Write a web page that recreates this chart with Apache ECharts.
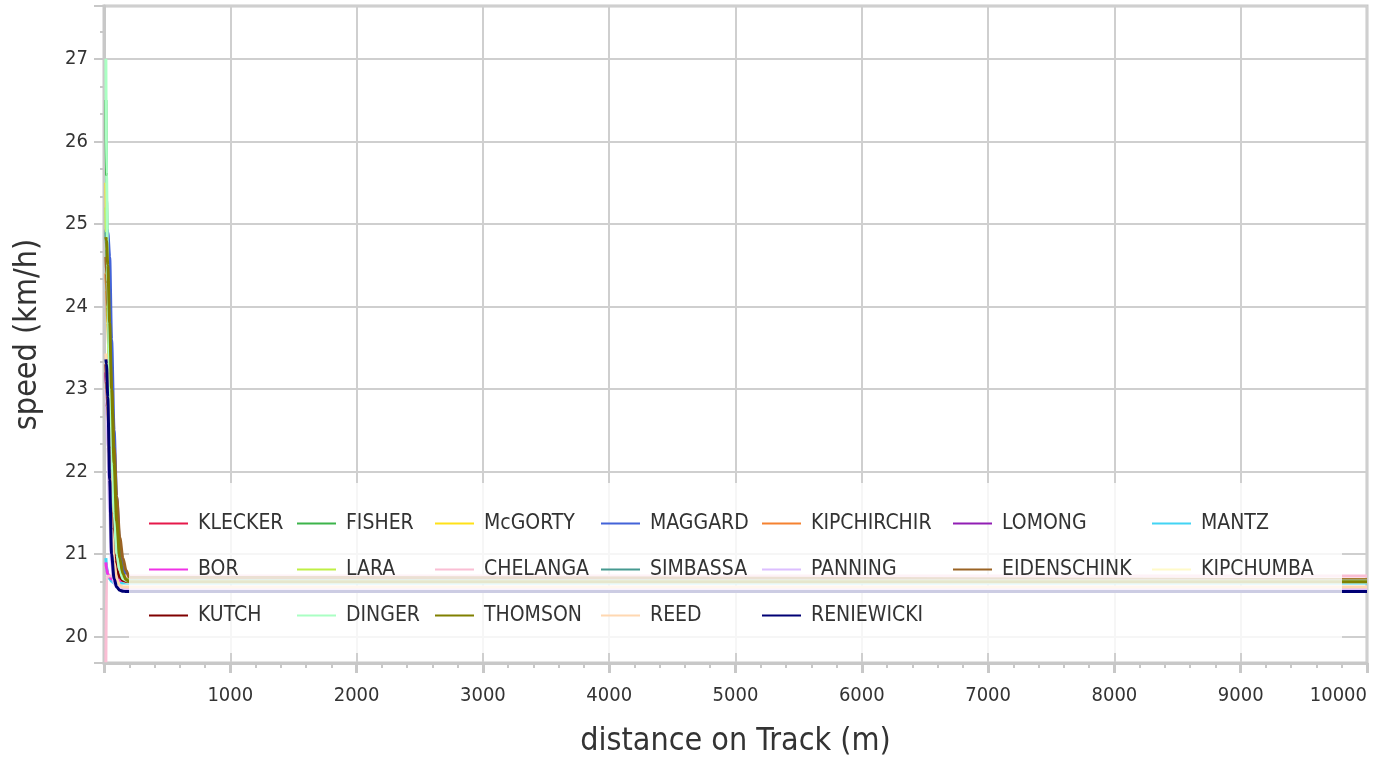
<!DOCTYPE html>
<html>
<head>
<meta charset="utf-8">
<title>speed vs distance</title>
<script src="https://cdn.jsdelivr.net/npm/echarts@6/dist/echarts.min.js"></script>
<style>
  html, body { margin: 0; padding: 0; background: #fff; }
  #chart { width: 1393px; height: 757px; }
</style>
</head>
<body>
<div id="chart"></div>
<script>
// ---------------------------------------------------------------------------
// Data
// ---------------------------------------------------------------------------
const distances = [15, 20, 30, 45, 60, 80, 100, 125, 150, 175, 200, 10000];

const runners = [
  "KLECKER", "FISHER", "McGORTY", "MAGGARD", "KIPCHIRCHIR", "LOMONG", "MANTZ",
  "BOR", "LARA", "CHELANGA", "SIMBASSA", "PANNING", "EIDENSCHINK", "KIPCHUMBA",
  "KUTCH", "DINGER", "THOMSON", "REED", "RENIEWICKI",
];

const KLECKER     = [23.2, 23.0, 22.6, 22.0, 21.5, 21.0, 20.8, 20.72, 20.69, 20.68, 20.68, 20.68];
const FISHER      = [26.5, 25.3, 24.2, 23.1, 22.2, 21.4, 20.95, 20.78, 20.7, 20.68, 20.68, 20.68];
const McGORTY     = [25.5, 24.9, 24.0, 23.0, 22.1, 21.4, 20.95, 20.75, 20.69, 20.67, 20.67, 20.67];
const MAGGARD     = [24.9, 24.94, 24.9, 24.6, 23.6, 22.5, 21.7, 21.1, 20.85, 20.73, 20.69, 20.68];
const KIPCHIRCHIR = [24.4, 24.2, 23.8, 23.0, 22.3, 21.5, 21.0, 20.8, 20.72, 20.7, 20.69, 20.69];
const LOMONG      = [23.2, 23.0, 22.6, 22.0, 21.5, 21.0, 20.78, 20.7, 20.67, 20.67, 20.67, 20.67];
const MANTZ       = [20.95, 20.85, 20.75, 20.7, 20.67, 20.65, 20.65, 20.65, 20.65, 20.65, 20.65, 20.65];
const BOR         = [20.9, 20.82, 20.76, 20.72, 20.7, 20.68, 20.68, 20.68, 20.68, 20.68, 20.68, 20.68];
const LARA        = [25.2, 24.6, 23.9, 22.9, 22.0, 21.3, 20.9, 20.75, 20.71, 20.7, 20.69, 20.69];
const CHELANGA    = [19.69, 20.7, 20.73, 20.735, 20.735, 20.735, 20.735, 20.735, 20.735, 20.735, 20.735, 20.735];
const SIMBASSA    = [24.9, 24.7, 24.3, 23.5, 22.7, 21.8, 21.2, 20.85, 20.72, 20.69, 20.68, 20.68];
const PANNING     = [23.0, 22.8, 22.3, 21.5, 20.9, 20.65, 20.6, 20.58, 20.57, 20.57, 20.57, 20.57];
const EIDENSCHINK = [24.6, 24.4, 24.0, 23.5, 23.0, 22.3, 21.7, 21.2, 20.95, 20.8, 20.72, 20.69];
const KIPCHUMBA   = [23.3, 23.1, 22.7, 22.1, 21.6, 21.1, 20.82, 20.72, 20.68, 20.66, 20.66, 20.66];
const KUTCH       = [23.3, 23.1, 22.8, 22.2, 21.7, 21.1, 20.82, 20.72, 20.68, 20.67, 20.67, 20.67];
const DINGER      = [27.0, 25.6, 24.3, 23.2, 22.3, 21.5, 21.0, 20.8, 20.7, 20.68, 20.675, 20.675];
const THOMSON     = [24.84, 24.8, 24.5, 23.8, 23.0, 22.1, 21.4, 20.95, 20.76, 20.69, 20.665, 20.665];
const REED        = [23.43, 23.3, 22.9, 22.0, 21.3, 20.9, 20.7, 20.62, 20.6, 20.6, 20.6, 20.6];
const RENIEWICKI  = [23.36, 23.3, 22.9, 21.9, 21.0, 20.7, 20.6, 20.56, 20.55, 20.545, 20.545, 20.545];

const speeds = [
  KLECKER, FISHER, McGORTY, MAGGARD, KIPCHIRCHIR, LOMONG, MANTZ,
  BOR, LARA, CHELANGA, SIMBASSA, PANNING, EIDENSCHINK, KIPCHUMBA,
  KUTCH, DINGER, THOMSON, REED, RENIEWICKI,
];

// ---------------------------------------------------------------------------
// Styles
// ---------------------------------------------------------------------------
const palette = [
  "#e6194b", "#3cb44b", "#ffe119", "#4363d8", "#f58231", "#911eb4", "#42d4f4",
  "#f032e6", "#bfef45", "#fabed4", "#469990", "#dcbeff", "#9a6324", "#fffac8",
  "#800000", "#aaffc3", "#808000", "#ffd8b1", "#000075",
];

const FONT = "'DejaVu Sans Condensed', 'Open Sans', sans-serif";
const AXIS_GRAY = "#c8c8c8";
const GRID_GRAY = "#cfcfcf";

// legend is laid out in columns, one vertical legend per column
const legendCols = [[0, 7, 14], [1, 8, 15], [2, 9, 16], [3, 10, 17], [4, 11, 18], [5, 12], [6, 13]];
const legendLeft = [149, 297, 435, 601, 762, 953, 1152];

const chart = echarts.init(document.getElementById("chart"));

const option = {
  animation: false,
  color: palette,
  grid: {
    left: 104, right: 26, top: 6, bottom: 94,
    outerBoundsMode: "none",
    containLabel: false,
    show: true, borderColor: AXIS_GRAY, borderWidth: 3,
  },
  // translucent white panel behind the legend (washes the lines under it)
  graphic: {
    z: 4,
    elements: [{
      type: "rect", z: 4, silent: true,
      shape: { x: 129, y: 483, width: 1213, height: 170 },
      style: { fill: "rgba(255,255,255,0.8)" },
    }],
  },
  legend: legendCols.map((col, i) => ({
    orient: "vertical",
    left: legendLeft[i],
    top: 513,
    padding: 0,
    itemGap: 25,
    itemWidth: 39,
    itemHeight: 2,
    icon: "rect",
    z: 6,
    data: col.map((k) => runners[k]),
    textStyle: { fontFamily: FONT, fontSize: 21, color: "#333", lineHeight: 20, padding: [0, 0, 0, 5] },
  })),
  xAxis: {
    type: "value",
    min: 0,
    max: 10000,
    interval: 1000,
    name: "distance on Track (m)",
    nameLocation: "middle",
    nameGap: 63,
    nameTextStyle: { fontFamily: FONT, fontSize: 32, color: "#333" },
    axisLine: { lineStyle: { color: AXIS_GRAY, width: 3 } },
    axisTick: { length: 10, lineStyle: { color: AXIS_GRAY, width: 3 } },
    minorTick: { show: true, splitNumber: 5, length: 5, lineStyle: { color: AXIS_GRAY, width: 2 } },
    axisLabel: {
      fontFamily: FONT, fontSize: 20, color: "#333", margin: 23,
      showMinLabel: false, alignMaxLabel: "right",
      formatter: (v) => String(v),
    },
    splitLine: { show: true, lineStyle: { color: GRID_GRAY, width: 2 } },
  },
  yAxis: {
    type: "value",
    min: 19.68,
    max: 27.64,
    minInterval: 1,
    maxInterval: 1,
    name: "speed (km/h)",
    nameLocation: "middle",
    nameGap: 60,
    nameTextStyle: { fontFamily: FONT, fontSize: 32, color: "#333" },
    axisLine: { show: true, lineStyle: { color: AXIS_GRAY, width: 3 } },
    axisTick: { show: true, length: 10, lineStyle: { color: AXIS_GRAY, width: 2 } },
    minorTick: { show: true, splitNumber: 3, length: 4, lineStyle: { color: AXIS_GRAY, width: 2 } },
    axisLabel: {
      fontFamily: FONT, fontSize: 20, color: "#333", margin: 16,
      formatter: (v) => (Math.abs(v - Math.round(v)) < 1e-6 ? String(Math.round(v)) : ""),
    },
    splitLine: { show: true, lineStyle: { color: GRID_GRAY, width: 2 } },
  },
  series: runners.map((name, i) => ({
    name,
    type: "line",
    z: 3,
    data: distances.map((d, j) => [d, speeds[i][j]]),
    showSymbol: false,
    smooth: 0.3,
    smoothMonotone: "x",
    lineStyle: { width: 3 },
    emphasis: { disabled: true },
  })),
};

chart.setOption(option);
window.addEventListener("resize", () => chart.resize());
</script>
</body>
</html>
